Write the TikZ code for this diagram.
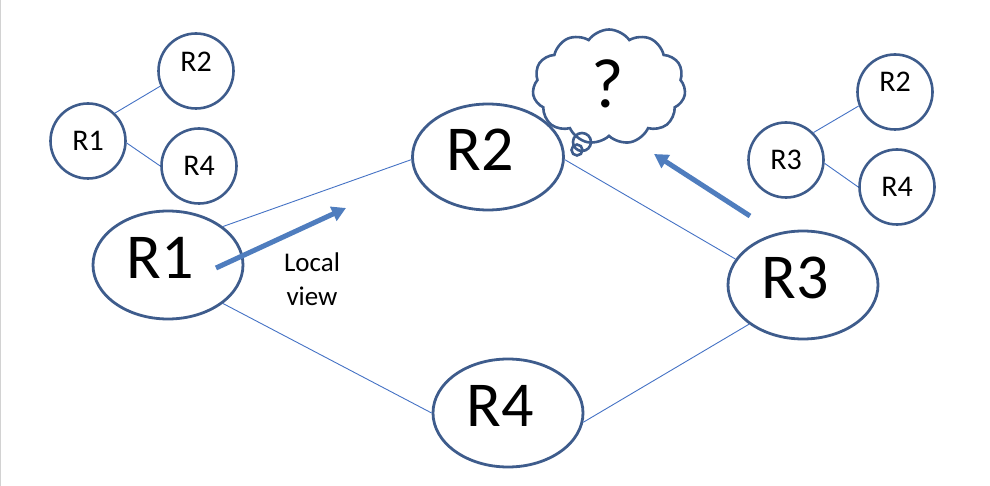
\documentclass[tikz,border=0pt]{standalone}
\usepackage{fontspec}
\setmainfont{Carlito}
\usetikzlibrary{shapes.geometric,shapes.symbols,arrows.meta}
\definecolor{ring}{RGB}{62,92,140}
\definecolor{thinblue}{RGB}{68,114,196}
\definecolor{arrowblue}{RGB}{79,125,190}
\tikzset{
  big/.style={ellipse,draw=ring,line width=2.8pt,inner sep=0pt,minimum width=150pt,minimum height=108pt},
  bigtext/.style={font=\fontsize{64}{64}\selectfont,xshift=-8pt,yshift=7pt},
  small/.style={circle,draw=ring,line width=2.6pt,inner sep=0pt,minimum size=75pt,font=\fontsize{30}{30}\selectfont},
  smalltext/.style={font=\fontsize{30}{30}\selectfont},
  link/.style={draw=thinblue,line width=0.9pt},
  view/.style={draw=arrowblue,line width=5pt,-{Triangle[length=14pt,width=15pt]}},
  bubble/.style={draw=ring,line width=2.6pt}
}
\begin{document}
\begin{tikzpicture}[x=1pt,y=-1pt]
\useasboundingbox (0,0) rectangle (990,486);
\draw[gray!35,line width=1pt] (0.5,0) -- (0.5,486);
% big nodes
\node[big,label={[bigtext]center:R1}] (R1) at (168,265) {};
\node[big,minimum width=151pt,minimum height=106pt,label={[bigtext]center:R2}] (R2) at (488,157) {};
\node[big,label={[bigtext]center:R3}] (R3) at (803,285) {};
\node[big,label={[bigtext]center:R4}] (R4) at (508,413) {};
\draw[link] (R1.35) -- (R2.182);
\draw[link] (R2.-2) -- (R3.159);
\draw[link] (R1.-35) -- (R4.180);
\draw[link] (R4.-7) -- (R3.216);
% left local graph
\node[small] (a1) at (88,141) {R1};
\node[small,label={[smalltext,yshift=9pt]center:R2}] (a2) at (196,71) {};
\node[small] (a4) at (199,166) {R4};
\draw[link] (a1.46) -- (a2.203);
\draw[link] (a1.-3) -- (a4.180);
% right local graph
\node[small] (b3) at (786,160) {R3};
\node[small,label={[smalltext,yshift=10pt]center:R2}] (b2) at (895,92) {};
\node[small] (b4) at (897,187) {R4};
\draw[link] (b3.45) -- (b2.201);
\draw[link] (b3.-5) -- (b4.180);
% cloud
\node[cloud,bubble,cloud puffs=11,cloud puff arc=110,aspect=1.5,minimum width=153pt,minimum height=115pt,inner sep=0pt] (cl) at (609,87) {};
\node[font=\fontsize{70}{70}\selectfont] (q) at (608,84) {?};
\node[circle,bubble,minimum size=18pt,inner sep=0pt] (c1) at (582,142) {};
\node[circle,bubble,minimum size=11pt,inner sep=0pt] (c2) at (577,150) {};
% view arrows
\coordinate (s1) at (216,268); \coordinate (t1) at (346,208);
\coordinate (s2) at (750,216); \coordinate (t2) at (654,154);
\draw[view] (s1) -- (t1);
\draw[view] (s2) -- (t2);
\node[font=\fontsize{27}{34}\selectfont,align=center] (lv) at (312,279) {Local\\view};
\end{tikzpicture}
\end{document}
